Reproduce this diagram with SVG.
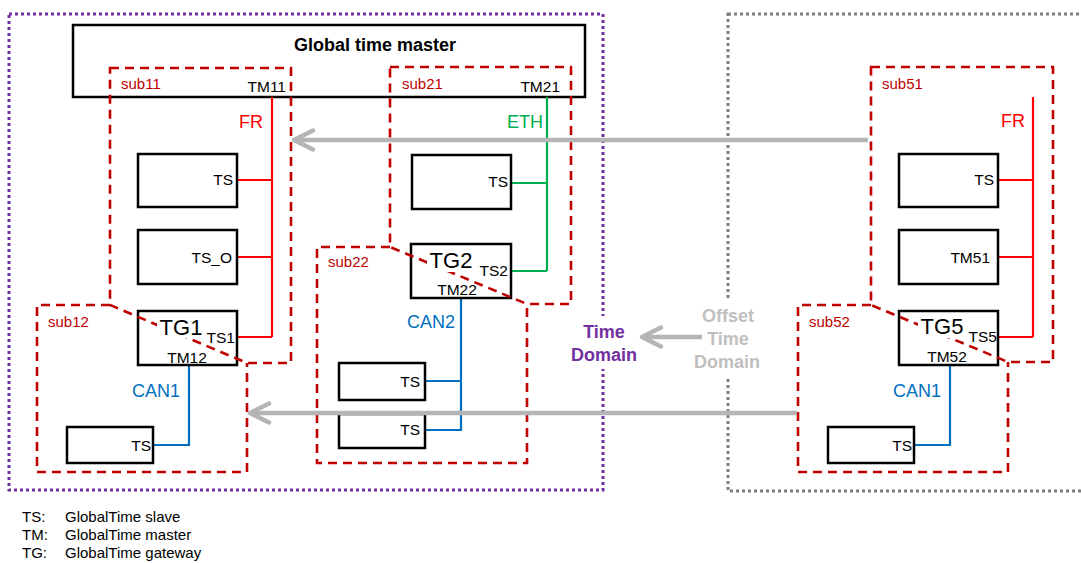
<svg xmlns="http://www.w3.org/2000/svg" width="1081" height="563" viewBox="0 0 1081 563">
<style>
text{font-family:"Liberation Sans",Arial,sans-serif}
.box{fill:#fff;stroke:#000;stroke-width:2.5}
.sub{fill:none;stroke:#C00000;stroke-width:2.6;stroke-dasharray:9 6}
.lbl{font-size:15.5px;fill:#000}
.sublbl{font-size:15px;fill:#C00000}
.tg{font-size:22px;fill:#000}
.bus{font-size:18px}
.fr{stroke:#FF0000;stroke-width:2.2;fill:none}
.eth{stroke:#00B050;stroke-width:2.2;fill:none}
.can{stroke:#0070C0;stroke-width:2.2;fill:none}
.garrow{stroke:#b5b5b5;stroke-width:4.5;fill:none;marker-end:url(#chev)}
.leg{font-size:15px;fill:#000}
</style>
<defs>
<marker id="chev" markerUnits="userSpaceOnUse" markerWidth="30" markerHeight="30" viewBox="-25 -15 30 30" refX="0" refY="0" orient="auto">
<path d="M-19,-9.5 L0,0 L-19,9.5" fill="none" stroke="#b5b5b5" stroke-width="4.5" stroke-linecap="round" stroke-linejoin="round"/>
</marker>
</defs>
<rect width="1081" height="563" fill="#fff"/>

<g id="domains">
<rect x="9" y="14" width="594" height="476" fill="none" stroke="#7030A0" stroke-width="3" stroke-dasharray="3 3"/>
<rect x="728" y="14" width="400" height="477" fill="none" stroke="#7f7f7f" stroke-width="3" stroke-dasharray="3 3"/>
</g>

<g id="global-master">
<rect class="box" x="73" y="25" width="512" height="72" stroke-width="3"/>
<text x="375" y="51" text-anchor="middle" font-size="18" font-weight="bold">Global time master</text>
<text class="lbl" x="286" y="92" text-anchor="end">TM11</text>
<text class="lbl" x="560" y="92" text-anchor="end">TM21</text>
</g>

<g id="connectors">
<path class="fr" d="M272,97 V337 M237,180 H272 M237,257 H272 M237,337 H272"/>
<path class="eth" d="M547,97 V271 M511,183 H547 M511,271 H547"/>
<path class="can" d="M189,365 V445 H153"/>
<path class="can" d="M461,298 V430 H425 M425,381 H461"/>
<path class="fr" d="M1033,97 V337 M998,180 H1033 M998,257 H1033 M998,337 H1033"/>
<path class="can" d="M950,365 V445 H914"/>
</g>

<g id="n-ts11"><rect class="box" x="138" y="154" width="99" height="53"/><text class="lbl" x="233" y="185" text-anchor="end">TS</text></g>
<g id="n-tso"><rect class="box" x="138" y="230" width="99" height="54"/><text class="lbl" x="232" y="263" text-anchor="end">TS_O</text></g>
<g id="n-tg1"><rect class="box" x="138" y="311" width="99" height="54"/></g>
<g id="n-ts12"><rect class="box" x="67" y="427" width="86" height="36"/><text class="lbl" x="151" y="451" text-anchor="end">TS</text></g>

<g id="n-ts21"><rect class="box" x="412" y="155" width="99" height="54"/><text class="lbl" x="508" y="187" text-anchor="end">TS</text></g>
<g id="n-tg2"><rect class="box" x="411" y="244" width="100" height="54"/></g>
<g id="n-ts22a"><rect class="box" x="339" y="363" width="86" height="37"/><text class="lbl" x="420" y="387" text-anchor="end">TS</text></g>
<g id="n-ts22b"><rect class="box" x="339" y="414" width="86" height="34"/><text class="lbl" x="420" y="435" text-anchor="end">TS</text></g>

<g id="n-ts51"><rect class="box" x="899" y="154" width="99" height="53"/><text class="lbl" x="994" y="185" text-anchor="end">TS</text></g>
<g id="n-tm51"><rect class="box" x="899" y="230" width="99" height="54"/><text class="lbl" x="990" y="263" text-anchor="end">TM51</text></g>
<g id="n-tg5"><rect class="box" x="899" y="311" width="99" height="54"/></g>
<g id="n-ts52"><rect class="box" x="828" y="427" width="86" height="36"/><text class="lbl" x="912" y="451" text-anchor="end">TS</text></g>

<g id="sub11"><path class="sub" d="M110,68 H291 V363 H247 L110,305 Z"/><text class="sublbl" x="121" y="89">sub11</text></g>
<g id="sub12"><path class="sub" d="M110,305 H37 V472 H247 V363"/><text class="sublbl" x="48" y="327">sub12</text></g>
<g id="sub21"><path class="sub" d="M390,67 H571 V304 H527 L390,247 Z"/><text class="sublbl" x="402" y="89">sub21</text></g>
<g id="sub22"><path class="sub" d="M390,247 H317 V463 H527 V304"/><text class="sublbl" x="328" y="267">sub22</text></g>
<g id="sub51"><path class="sub" d="M871,67 H1053 V362 H1008 L871,305 Z"/><text class="sublbl" x="882" y="89">sub51</text></g>
<g id="sub52"><path class="sub" d="M871,305 H798 V472 H1008 V362"/><text class="sublbl" x="809" y="327">sub52</text></g>

<g id="tg-labels">
<rect x="157" y="314" width="48" height="24" fill="#fff"/>
<text class="tg" x="181" y="335" text-anchor="middle">TG1</text>
<text class="lbl" x="235" y="343" text-anchor="end">TS1</text>
<text class="lbl" x="187" y="363" text-anchor="middle">TM12</text>
<rect x="427" y="248" width="48" height="24" fill="#fff"/>
<text class="tg" x="451" y="268" text-anchor="middle">TG2</text>
<text class="lbl" x="508" y="276" text-anchor="end">TS2</text>
<text class="lbl" x="457" y="295" text-anchor="middle">TM22</text>
<rect x="918" y="314" width="48" height="24" fill="#fff"/>
<text class="tg" x="942" y="334" text-anchor="middle">TG5</text>
<text class="lbl" x="997" y="342" text-anchor="end">TS5</text>
<text class="lbl" x="947" y="362" text-anchor="middle">TM52</text>
</g>

<g id="bus-labels">
<text class="bus" x="263" y="128" text-anchor="end" fill="#FF0000">FR</text>
<text class="bus" x="543" y="128" text-anchor="end" fill="#00B050">ETH</text>
<text class="bus" x="1025" y="127" text-anchor="end" fill="#FF0000">FR</text>
<text class="bus" x="132" y="397" fill="#0070C0">CAN1</text>
<text class="bus" x="407" y="328" fill="#0070C0">CAN2</text>
<text class="bus" x="893" y="397" fill="#0070C0">CAN1</text>
</g>

<g id="domain-labels">
<rect x="570" y="316" width="70" height="53" fill="#fff"/>
<text x="604" y="338" text-anchor="middle" font-size="18" font-weight="bold" fill="#7030A0">Time</text>
<text x="604" y="361" text-anchor="middle" font-size="18" font-weight="bold" fill="#7030A0">Domain</text>
<rect x="688" y="301" width="80" height="76" fill="#fff"/>
<text x="728" y="322" text-anchor="middle" font-size="18" font-weight="bold" fill="#BFBFBF">Offset</text>
<text x="728" y="345" text-anchor="middle" font-size="18" font-weight="bold" fill="#BFBFBF">Time</text>
<text x="727" y="368" text-anchor="middle" font-size="18" font-weight="bold" fill="#BFBFBF">Domain</text>
</g>

<g id="offset-arrows">
<path class="garrow" d="M868,140 H294"/>
<path class="garrow" d="M797,413 H250"/>
<path class="garrow" d="M702,337 H642"/>
</g>

<g id="legend">
<text class="leg" x="22" y="522">TS:</text><text class="leg" x="65" y="522">GlobalTime slave</text>
<text class="leg" x="22" y="540">TM:</text><text class="leg" x="65" y="540">GlobalTime master</text>
<text class="leg" x="22" y="558">TG:</text><text class="leg" x="65" y="558">GlobalTime gateway</text>
</g>
</svg>
